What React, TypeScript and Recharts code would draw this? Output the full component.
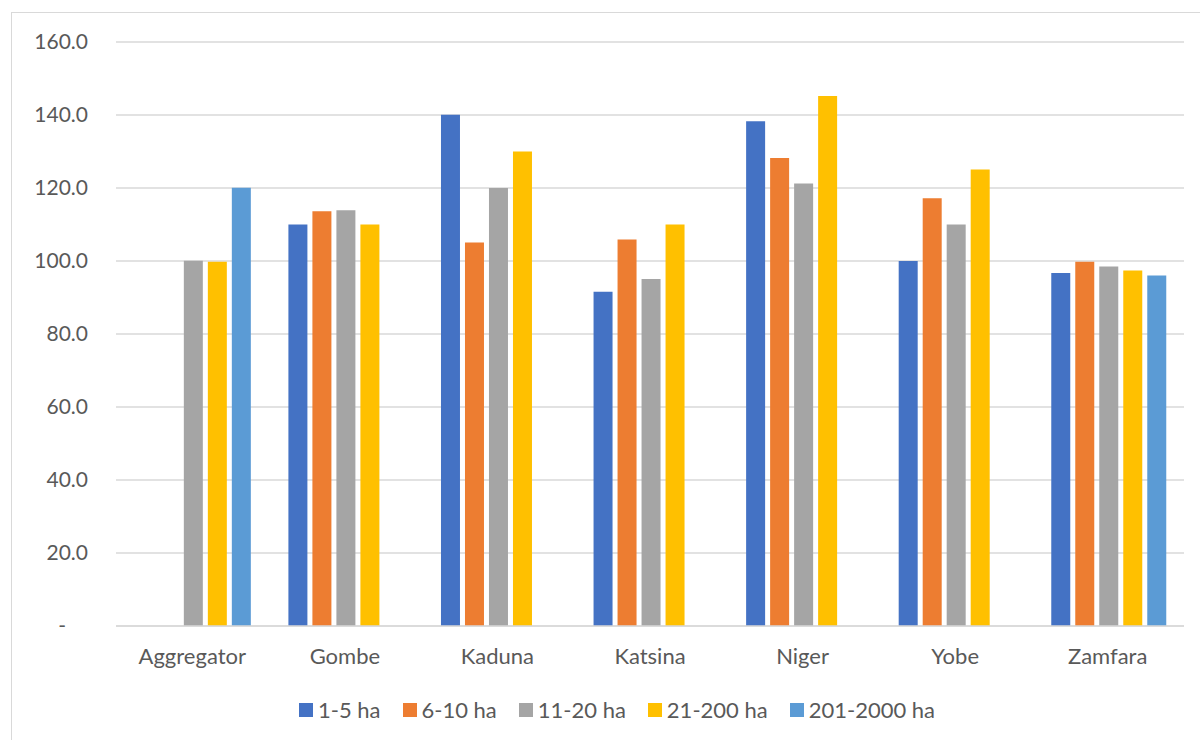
import React from "react";
import { BarChart, Bar, XAxis, YAxis, CartesianGrid, Legend } from "recharts";

const categories = ["Aggregator", "Gombe", "Kaduna", "Katsina", "Niger", "Yobe", "Zamfara"];

const ha1to5 = [null, 110.0, 140.1, 91.6, 138.3, 100.0, 96.7];
const ha6to10 = [null, 113.6, 105.1, 105.9, 128.2, 117.2, 99.8];
const ha11to20 = [100.1, 113.9, 120.0, 95.1, 121.2, 110.0, 98.5];
const ha21to200 = [99.8, 110.0, 130.0, 110.0, 145.2, 125.1, 97.4];
const ha201to2000 = [120.1, null, null, null, null, null, 96.0];

const seriesNames = ["1-5 ha", "6-10 ha", "11-20 ha", "21-200 ha", "201-2000 ha"];
const seriesValues = [ha1to5, ha6to10, ha11to20, ha21to200, ha201to2000];
const seriesColors = ["#4472C4", "#ED7D31", "#A5A5A5", "#FFC000", "#5B9BD5"];

const yTicks = [0, 20, 40, 60, 80, 100, 120, 140, 160];

const data = categories.map((name, i) => {
  const row: Record<string, string | number | null> = { name };
  seriesNames.forEach((s, j) => {
    row[s] = seriesValues[j][i];
  });
  return row;
});

const FONT = "Lato, 'Open Sans', sans-serif";
const TEXT = "#595959";

function YTick(props: any) {
  const { x, y, payload } = props;
  const v = payload.value as number;
  return (
    <text
      x={v === 0 ? x - 22 : x}
      y={y}
      dy="0.35em"
      textAnchor="end"
      fill={TEXT}
      fontSize={21}
      fontFamily={FONT}
    >
      {v === 0 ? "-" : v.toFixed(1)}
    </text>
  );
}

function LegendContent(props: any) {
  // keep series order, not alphabetical
  const items = [...(props.payload ?? [])].sort(
    (a: any, b: any) => seriesNames.indexOf(a.value) - seriesNames.indexOf(b.value)
  );
  return (
    <div
      style={{
        display: "flex",
        justifyContent: "center",
        whiteSpace: "nowrap",
        fontFamily: FONT,
        fontSize: 22,
        color: TEXT,
      }}
    >
      {items.map((it: any) => (
        <div
          key={it.value}
          style={{ display: "flex", alignItems: "center", marginRight: 22 }}
        >
          <span
            style={{
              width: 14,
              height: 14,
              background: it.color,
              display: "inline-block",
              marginRight: 5,
            }}
          />
          <span>{it.value}</span>
        </div>
      ))}
    </div>
  );
}

export default function App() {
  return (
    <div style={{ position: "absolute", left: 0, top: 0, width: 1200, height: 740, background: "#fff", overflow: "hidden" }}>
      <div
        style={{
          position: "absolute",
          left: 11,
          top: 12,
          width: 1240,
          height: 760,
          border: "1px solid #d9d9d9",
        }}
      />
      <div style={{ position: "absolute", left: 0, top: 0 }}>
        <BarChart
          width={1200}
          height={740}
          data={data}
          margin={{ top: 42, right: 16, bottom: 74, left: 16 }}
          barCategoryGap="13%"
          barGap={5}
        >
          <CartesianGrid vertical={false} stroke="#d9d9d9" strokeWidth={1.3} />
          <XAxis
            dataKey="name"
            height={40}
            tickLine={false}
            tickSize={0}
            tickMargin={22}
            axisLine={{ stroke: "#d9d9d9", strokeWidth: 1.5 }}
            tick={{ fill: TEXT, fontSize: 22, fontFamily: FONT }}
            interval={0}
          />
          <YAxis
            width={100}
            domain={[0, 160]}
            ticks={yTicks}
            axisLine={false}
            tickLine={false}
            tickSize={0}
            tickMargin={28}
            tick={<YTick />}
          />
          <Legend
            layout="horizontal"
            verticalAlign="middle"
            align="center"
            wrapperStyle={{ top: 696, left: 0, width: 1256 }}
            content={<LegendContent />}
          />
          {seriesNames.map((s, j) => (
            <Bar
              key={s}
              dataKey={s}
              name={s}
              fill={seriesColors[j]}
              isAnimationActive={false}
            />
          ))}
        </BarChart>
      </div>
    </div>
  );
}
